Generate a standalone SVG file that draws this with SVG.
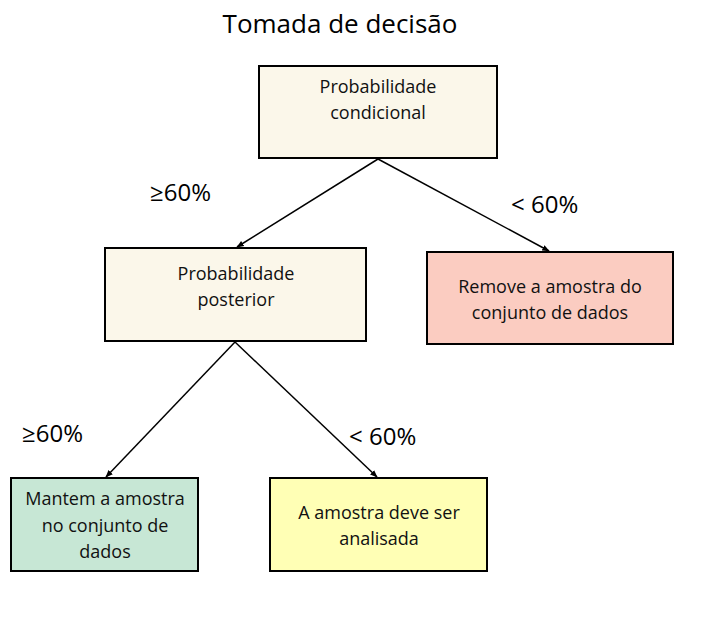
<svg xmlns="http://www.w3.org/2000/svg" width="701" height="634" viewBox="0 0 701 634">
<style>
  .box { stroke: #000; stroke-width: 2; }
  .t { font-family: "Open Sans", "Noto Sans", sans-serif; font-size: 18px; fill: #111; text-anchor: middle; }
  .lbl { font-family: "Open Sans", "Noto Sans", sans-serif; font-size: 24px; fill: #000; }
  .title { font-family: "Open Sans", "Noto Sans", sans-serif; font-size: 26px; fill: #000; text-anchor: middle; }
  .conn { stroke: #000; stroke-width: 1.5; fill: none; marker-end: url(#arr); }
</style>
<defs>
  <marker id="arr" viewBox="0 0 10 10" refX="9" refY="5" markerWidth="5" markerHeight="5" orient="auto" markerUnits="strokeWidth">
    <path d="M0,1 L10,5 L0,9 Z" fill="#000"/>
  </marker>
</defs>
<rect width="701" height="634" fill="#fff"/>
<text class="title" x="340" y="33">Tomada de decisão</text>

<g id="connectors">
  <line class="conn" x1="378" y1="159" x2="237" y2="247"/>
  <line class="conn" x1="378" y1="159" x2="549" y2="251"/>
  <line class="conn" x1="235" y1="342" x2="106" y2="477"/>
  <line class="conn" x1="235" y1="342" x2="377" y2="477"/>
</g>

<g id="labels">
  <text class="lbl" x="150" y="201">≥60%</text>
  <text class="lbl" x="511" y="213">&lt; 60%</text>
  <text class="lbl" x="22" y="442">≥60%</text>
  <text class="lbl" x="349" y="445">&lt; 60%</text>
</g>

<g id="n1">
  <rect class="box" x="259" y="66" width="238" height="92" fill="#FBF7EA"/>
  <text class="t" x="378" y="93">Probabilidade</text>
  <text class="t" x="378" y="119">condicional</text>
</g>
<g id="n2">
  <rect class="box" x="105" y="248" width="261" height="93" fill="#FBF7EA"/>
  <text class="t" x="236" y="280">Probabilidade</text>
  <text class="t" x="236" y="306">posterior</text>
</g>
<g id="n3">
  <rect class="box" x="427" y="252" width="246" height="92" fill="#FBCCC1"/>
  <text class="t" x="550" y="293">Remove a amostra do</text>
  <text class="t" x="550" y="319">conjunto de dados</text>
</g>
<g id="n4">
  <rect class="box" x="11" y="478" width="187" height="93" fill="#C7E7D5"/>
  <text class="t" x="105" y="505">Mantem a amostra</text>
  <text class="t" x="105" y="532">no conjunto de</text>
  <text class="t" x="105" y="558">dados</text>
</g>
<g id="n5">
  <rect class="box" x="270" y="478" width="217" height="93" fill="#FFFFB5"/>
  <text class="t" x="379" y="519">A amostra deve ser</text>
  <text class="t" x="379" y="545">analisada</text>
</g>
</svg>
